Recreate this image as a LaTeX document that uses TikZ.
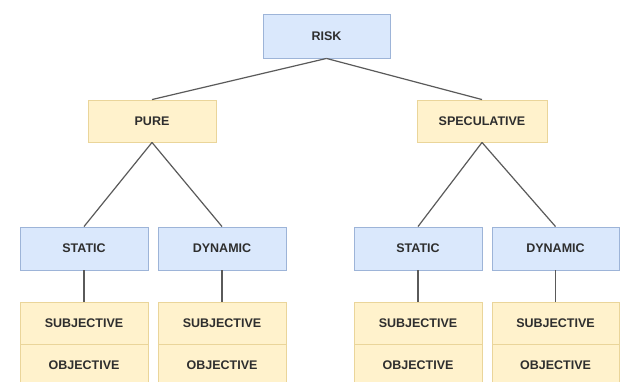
\documentclass[tikz,border=0pt]{standalone}
\usepackage{fontspec}
\setmainfont{Liberation Sans}
\definecolor{bluefill}{HTML}{DAE8FC}
\definecolor{bluedraw}{HTML}{9DB4D8}
\definecolor{yelfill}{HTML}{FFF2CC}
\definecolor{yeldraw}{HTML}{EAD59A}
\definecolor{txt}{HTML}{2E2E2E}
\definecolor{conn}{HTML}{5A5A5A}
\tikzset{
  box/.style={rectangle, inner sep=0pt, line width=0.9pt, font=\fontsize{12.5}{14}\selectfont\bfseries, text=txt},
  bluebox/.style={box, fill=bluefill, draw=bluedraw},
  yelbox/.style={box, fill=yelfill, draw=yeldraw},
  conn/.style={draw=conn, line width=1.2pt}
}
\begin{document}
\begin{tikzpicture}[x=1pt,y=-1pt]
\useasboundingbox (0,0) rectangle (620,382);
\clip (0,0) rectangle (620,382);
\fill[white] (0,0) rectangle (620,382);
\node[bluebox, minimum width=127pt, minimum height=44pt] (risk) at (326.5,36) {RISK};
\node[yelbox, minimum width=128pt, minimum height=42pt] (pure) at (152,121) {PURE};
\node[yelbox, minimum width=130pt, minimum height=42pt] (spec) at (482,121) {SPECULATIVE};
\node[bluebox, minimum width=128pt, minimum height=43pt] (s1) at (84,248.5) {STATIC};
\node[bluebox, minimum width=128pt, minimum height=43pt] (d1) at (222,248.5) {DYNAMIC};
\node[bluebox, minimum width=128pt, minimum height=43pt] (s2) at (418,248.5) {STATIC};
\node[bluebox, minimum width=127pt, minimum height=43pt] (d2) at (555.5,248.5) {DYNAMIC};
\node[yelbox, minimum width=128pt, minimum height=42pt] (sub1) at (84,323) {SUBJECTIVE};
\node[yelbox, minimum width=128pt, minimum height=42pt] (ob1) at (84,365) {OBJECTIVE};
\node[yelbox, minimum width=128pt, minimum height=42pt] (sub2) at (222,323) {SUBJECTIVE};
\node[yelbox, minimum width=128pt, minimum height=42pt] (ob2) at (222,365) {OBJECTIVE};
\node[yelbox, minimum width=128pt, minimum height=42pt] (sub3) at (418,323) {SUBJECTIVE};
\node[yelbox, minimum width=128pt, minimum height=42pt] (ob3) at (418,365) {OBJECTIVE};
\node[yelbox, minimum width=127pt, minimum height=42pt] (sub4) at (555.5,323) {SUBJECTIVE};
\node[yelbox, minimum width=127pt, minimum height=42pt] (ob4) at (555.5,365) {OBJECTIVE};
\draw[conn] (risk.south) -- (pure.north);
\draw[conn] (risk.south) -- (spec.north);
\draw[conn] (pure.south) -- (s1.north);
\draw[conn] (pure.south) -- (d1.north);
\draw[conn] (spec.south) -- (s2.north);
\draw[conn] (spec.south) -- (d2.north);
\draw[conn] (s1.south) -- (sub1.north);
\draw[conn] (d1.south) -- (sub2.north);
\draw[conn] (s2.south) -- (sub3.north);
\draw[conn] (d2.south) -- (sub4.north);
\end{tikzpicture}
\end{document}
